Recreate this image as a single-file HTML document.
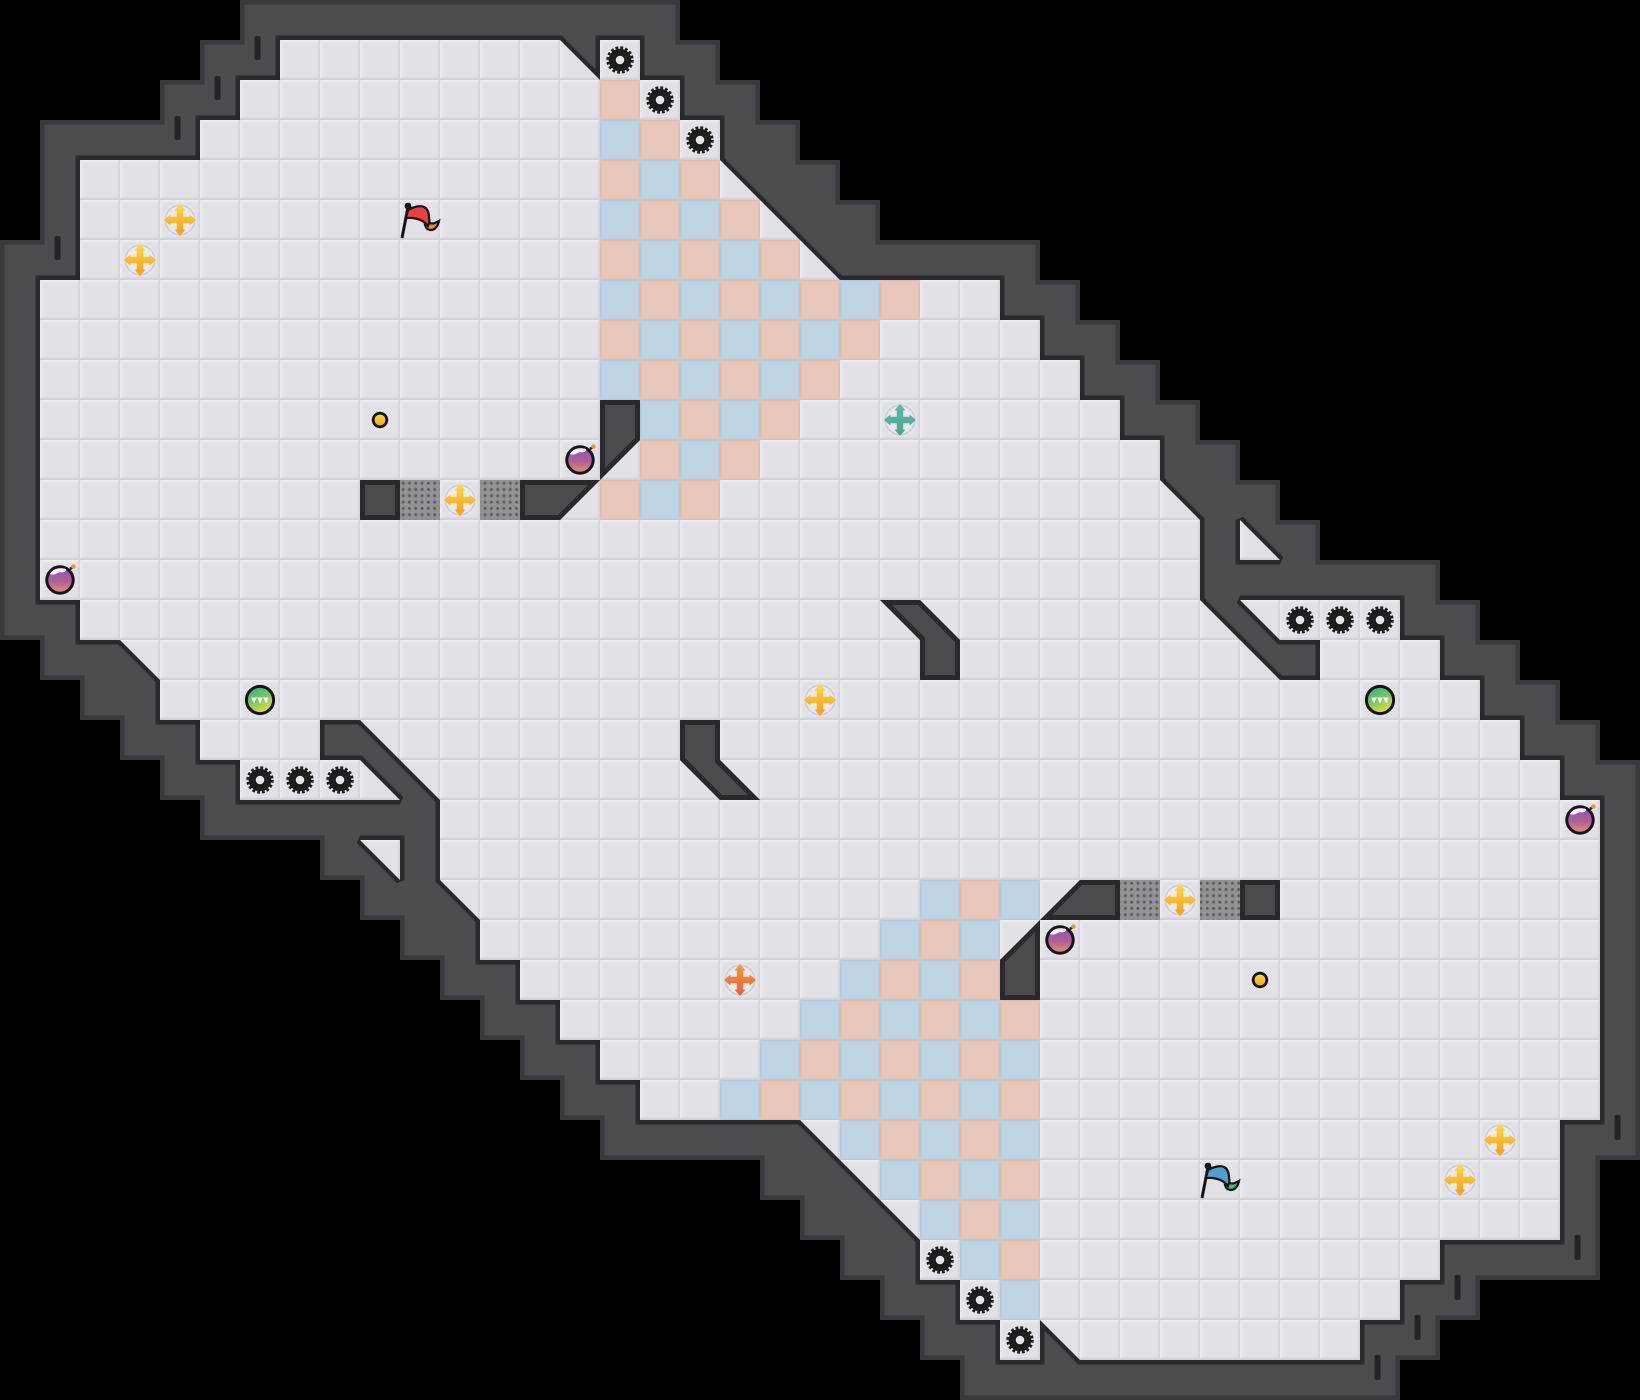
<!DOCTYPE html>
<html><head><meta charset="utf-8"><style>html,body{margin:0;padding:0;background:#000}svg{display:block}</style></head>
<body>
<svg xmlns="http://www.w3.org/2000/svg" width="1640" height="1400" viewBox="0 0 1640 1400">
<defs>
<pattern id="tile" width="40" height="40" patternUnits="userSpaceOnUse">
<rect width="40" height="40" fill="#e1e1e7"/>
<rect y="1.5" width="40" height="1.5" fill="#e6e6eb"/>
<rect x="1.5" width="1.5" height="40" fill="#e5e5ea"/>
<rect x="37" width="1.5" height="40" fill="#dcdce2"/>
<rect y="37" width="40" height="1.5" fill="#dadae0"/>
<rect width="40" height="1.5" fill="#ecedf1"/>
<rect width="1.5" height="40" fill="#e9e9ee"/>
<rect x="38.5" width="1.5" height="40" fill="#d4d4da"/>
<rect y="38.5" width="40" height="1.5" fill="#d0d0d7"/>
</pattern>
<pattern id="chk" width="80" height="80" patternUnits="userSpaceOnUse">
<rect width="80" height="80" fill="#bfd5e6"/>
<rect x="40" width="40" height="40" fill="#e9c8bb"/>
<rect y="40" width="40" height="40" fill="#e9c8bb"/>
<g fill="none" stroke="#000" stroke-opacity=".05" stroke-width="1.5">
<rect x=".75" y=".75" width="38.5" height="38.5"/><rect x="40.75" y=".75" width="38.5" height="38.5"/>
<rect x=".75" y="40.75" width="38.5" height="38.5"/><rect x="40.75" y="40.75" width="38.5" height="38.5"/>
</g>
</pattern>
<pattern id="chk2" width="80" height="80" patternUnits="userSpaceOnUse" patternTransform="translate(40,0)">
<rect width="80" height="80" fill="#bfd5e6"/>
<rect x="40" width="40" height="40" fill="#e9c8bb"/>
<rect y="40" width="40" height="40" fill="#e9c8bb"/>
<g fill="none" stroke="#000" stroke-opacity=".05" stroke-width="1.5">
<rect x=".75" y=".75" width="38.5" height="38.5"/><rect x="40.75" y=".75" width="38.5" height="38.5"/>
<rect x=".75" y="40.75" width="38.5" height="38.5"/><rect x="40.75" y="40.75" width="38.5" height="38.5"/>
</g>
</pattern>
<pattern id="dots" x="400" y="480" width="6.3" height="6.3" patternUnits="userSpaceOnUse">
<rect width="6.3" height="6.3" fill="#929296"/><circle cx="3.15" cy="3.15" r="1.5" fill="#5c5c60"/>
</pattern>
<pattern id="dots2" x="1160" y="880" width="6.3" height="6.3" patternUnits="userSpaceOnUse">
<rect width="6.3" height="6.3" fill="#929296"/><circle cx="3.15" cy="3.15" r="1.5" fill="#5c5c60"/>
</pattern>
<linearGradient id="gy" x1="0" y1="0" x2="0" y2="1"><stop offset="0" stop-color="#ffdc3c"/><stop offset="1" stop-color="#f59a20"/></linearGradient>
<linearGradient id="gt" x1="0" y1="0" x2="0" y2="1"><stop offset="0" stop-color="#5cb8b0"/><stop offset="1" stop-color="#4aa690"/></linearGradient>
<linearGradient id="gr" x1="0" y1="0" x2="0" y2="1"><stop offset="0" stop-color="#f59a3a"/><stop offset="1" stop-color="#e8603a"/></linearGradient>
<linearGradient id="gb" x1="0" y1="0" x2="0" y2="1"><stop offset="0" stop-color="#8a55b0"/><stop offset=".55" stop-color="#b0609a"/><stop offset="1" stop-color="#e89068"/></linearGradient>
<linearGradient id="go" x1="0.2" y1="0" x2="0.7" y2="1"><stop offset="0" stop-color="#25b57f"/><stop offset=".5" stop-color="#7cc860"/><stop offset="1" stop-color="#f0e03c"/></linearGradient>
<linearGradient id="gd" x1="0" y1="0" x2="0" y2="1"><stop offset="0" stop-color="#ffdf3a"/><stop offset="1" stop-color="#f2a31f"/></linearGradient>

<polygon id="outer" points="240,0 240,40 200,40 200,80 160,80 160,120 40,120 40,240 0,240 0,640 40,640 40,680 80,680 80,720 120,720 120,760 160,760 160,800 200,800 200,840 320,840 320,880 360,880 360,920 400,920 400,960 440,960 440,1000 480,1000 480,1040 520,1040 520,1080 560,1080 560,1120 600,1120 600,1160 760,1160 760,1200 800,1200 800,1240 840,1240 840,1280 880,1280 880,1320 920,1320 920,1360 960,1360 960,1400 1400,1400 1400,1360 1440,1360 1440,1320 1480,1320 1480,1280 1600,1280 1600,1160 1640,1160 1640,760 1600,760 1600,720 1560,720 1560,680 1520,680 1520,640 1480,640 1480,600 1440,600 1440,560 1320,560 1320,520 1280,520 1280,480 1240,480 1240,440 1200,440 1200,400 1160,400 1160,360 1120,360 1120,320 1080,320 1080,280 1040,280 1040,240 880,240 880,200 840,200 840,160 800,160 800,120 760,120 760,80 720,80 720,40 680,40 680,0"/>
<clipPath id="co"><use href="#outer"/></clipPath>
<path id="floor" d="M280,40 560,40 600,80 600,40 640,40 640,80 680,80 680,120 720,120 720,160 840,280 1000,280 1000,320 1040,320 1040,360 1080,360 1080,400 1120,400 1120,440 1160,440 1160,480 1200,520 1200,600 1280,680 1320,680 1320,640 1280,640 1240,600 1400,600 1400,640 1440,640 1440,680 1480,680 1480,720 1520,720 1520,760 1560,760 1560,800 1600,800 1600,1120 1560,1120 1560,1240 1440,1240 1440,1280 1400,1280 1400,1320 1360,1320 1360,1360 1080,1360 1040,1320 1040,1360 1000,1360 1000,1320 960,1320 960,1280 920,1280 920,1240 800,1120 640,1120 640,1080 600,1080 600,1040 560,1040 560,1000 520,1000 520,960 480,960 480,920 440,880 440,800 360,720 320,720 320,760 360,760 400,800 240,800 240,760 200,760 200,720 160,720 160,680 120,640 80,640 80,600 40,600 40,280 80,280 80,160 200,160 200,120 240,120 240,80 280,80Z M1240,520 1240,560 1280,560Z M360,840 400,840 400,880Z"/>
<path id="isl" d="M360,480H400V520H360Z M520,480H600L560,520H520Z M600,400H640V440L600,480Z M1240,880H1280V920H1240Z M1120,880H1080L1040,920H1120Z M1040,1000H1000V960L1040,920Z M880,600H920L960,640V680H920V640Z M760,800H720L680,760V720H720V760Z"/>
<clipPath id="ci"><use href="#isl"/></clipPath>

<g id="cross">
<circle r="14.5" fill="#e9e9ee" stroke="#cfcfd7" stroke-width="1.5"/>
<path d="M0,-16 5.5,-9.5 3.2,-9.5 3.2,-3.2 9.5,-3.2 9.5,-5.5 16,0 9.5,5.5 9.5,3.2 3.2,3.2 3.2,9.5 5.5,9.5 0,16 -5.5,9.5 -3.2,9.5 -3.2,3.2 -9.5,3.2 -9.5,5.5 -16,0 -9.5,-5.5 -9.5,-3.2 -3.2,-3.2 -3.2,-9.5 -5.5,-9.5Z"/>
</g>
<g id="gear">
<circle r="12" fill="none" stroke="#1c1c1e" stroke-width="3.4" stroke-dasharray="2.7 2.01"/>
<circle r="11.3" fill="#1c1c1e"/>
<circle r="4.3" fill="#e6e6ea"/>
</g>
<g id="bomb">
<path d="M10,-11 13,-13" stroke="#222" stroke-width="2.4"/>
<circle cx="13.5" cy="-13.5" r="2.2" fill="#f2962a"/>
<circle r="13.2" fill="url(#gb)" stroke="#161618" stroke-width="3"/>
<path d="M-10,-6C-8,-11 -1,-13 6,-11C7,-8 3,-7 0,-8C-3,-7 -7,-4 -10,-6Z" fill="#fff" fill-opacity=".95"/>
</g>
<g id="orb">
<circle r="13.6" fill="url(#go)" stroke="#161618" stroke-width="3"/>
<path d="M-9,-2.5H-3.2L-6,3.5Z M-2.9,-2.5H2.9L0,3.5Z M3.2,-2.5H9L6,3.5Z" fill="#fff"/>
</g>
<g id="dot"><circle r="6.8" fill="url(#gd)" stroke="#161618" stroke-width="2.8"/></g>
</defs>

<rect width="1640" height="1400" fill="#000"/>
<use href="#outer" fill="#4b4b50"/>
<use href="#outer" fill="none" stroke="#38383d" stroke-width="9" clip-path="url(#co)"/>

<g fill="#222227">
<rect x="254.500" y="36" width="6" height="24" rx="2"/><rect x="214.500" y="76" width="6" height="24" rx="2"/><rect x="174.500" y="116" width="6" height="24" rx="2"/><rect x="54.500" y="236" width="6" height="24" rx="2"/>
<rect x="1614.500" y="1115" width="6" height="25" rx="2"/><rect x="1574.500" y="1235" width="6" height="25" rx="2"/><rect x="1454.500" y="1275" width="6" height="25" rx="2"/><rect x="1414.500" y="1315" width="6" height="25" rx="2"/><rect x="1374.500" y="1355" width="6" height="25" rx="2"/>
</g>

<use href="#floor" fill="none" stroke="#28282d" stroke-width="9" stroke-linejoin="miter" stroke-miterlimit="2"/>
<use href="#floor" fill="url(#tile)"/>

<path d="M600,80H640V120H680V160H720V200H760V240H800V280H920V320H880V360H840V400H800V440H760V480H720V520H600V480H640V400H600Z" fill="url(#chk)"/>
<path d="M1040,1320H1000V1280H960V1240H920V1200H880V1160H840V1120H720V1080H760V1040H800V1000H840V960H880V920H920V880H1040V920H1000V1000H1040Z" fill="url(#chk2)"/>

<use href="#isl" fill="#4b4b50"/>
<use href="#isl" fill="none" stroke="#28282d" stroke-width="10" stroke-miterlimit="2" clip-path="url(#ci)"/>

<rect x="400" y="480" width="40" height="40" fill="url(#dots)"/>
<rect x="480" y="480" width="40" height="40" fill="url(#dots)"/>
<rect x="1120" y="880" width="40" height="40" fill="url(#dots2)"/>
<rect x="1200" y="880" width="40" height="40" fill="url(#dots2)"/>

<g fill="url(#gy)">
<use href="#cross" x="180" y="220"/><use href="#cross" x="140" y="260"/><use href="#cross" x="460" y="500"/><use href="#cross" x="820" y="700"/><use href="#cross" x="1180" y="900"/><use href="#cross" x="1500" y="1140"/><use href="#cross" x="1460" y="1180"/>
</g>
<use href="#cross" x="900" y="420" fill="url(#gt)"/>
<use href="#cross" x="740" y="980" fill="url(#gr)"/>

<use href="#gear" x="620" y="60"/><use href="#gear" x="660" y="100"/><use href="#gear" x="700" y="140"/>
<use href="#gear" x="260" y="780"/><use href="#gear" x="300" y="780"/><use href="#gear" x="340" y="780"/>
<use href="#gear" x="1300" y="620"/><use href="#gear" x="1340" y="620"/><use href="#gear" x="1380" y="620"/>
<use href="#gear" x="940" y="1260"/><use href="#gear" x="980" y="1300"/><use href="#gear" x="1020" y="1340"/>

<use href="#bomb" x="580" y="460"/><use href="#bomb" x="60" y="580"/><use href="#bomb" x="1060" y="940"/><use href="#bomb" x="1580" y="820"/>
<use href="#orb" x="260" y="700"/><use href="#orb" x="1380" y="700"/>
<use href="#dot" x="380" y="420"/><use href="#dot" x="1260" y="980"/>

<g>
<path d="M402,238 408,207" stroke="#161618" stroke-width="3"/>
<circle cx="408" cy="206" r="3.4" fill="#161618"/>
<path d="M425,220C430,225 434,224 439,221C438,226 435,230 431,230C427,230 424,227 425,220Z" fill="#f08a2e" stroke="#161618" stroke-width="2.2"/>
<path d="M408,210C413,207 420,205 424,207C428,209 429,213 429,218C430,221 429,224 428,226C424,221 418,217 406,218Z" fill="#ee4040" stroke="#161618" stroke-width="2.2"/>
</g>
<g transform="translate(800,960)">
<path d="M402,238 408,207" stroke="#161618" stroke-width="3"/>
<circle cx="408" cy="206" r="3.4" fill="#161618"/>
<path d="M425,220C430,225 434,224 439,221C438,226 435,230 431,230C427,230 424,227 425,220Z" fill="#3ec08e" stroke="#161618" stroke-width="2.2"/>
<path d="M408,210C413,207 420,205 424,207C428,209 429,213 429,218C430,221 429,224 428,226C424,221 418,217 406,218Z" fill="#4f9fd0" stroke="#161618" stroke-width="2.2"/>
</g>
</svg>
</body></html>
